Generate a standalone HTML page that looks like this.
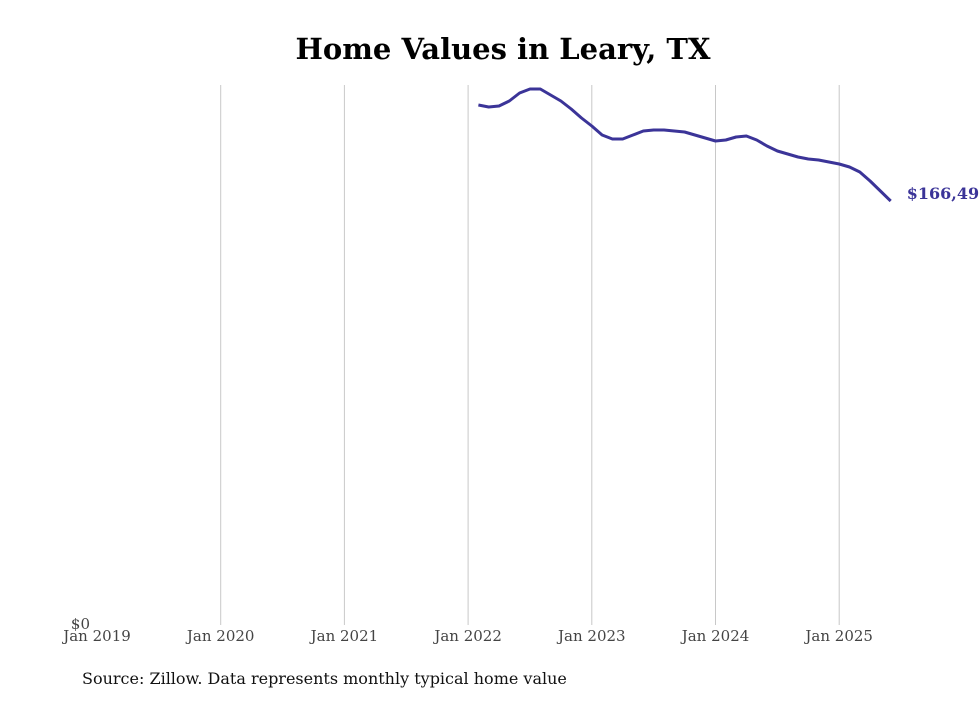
<!DOCTYPE html>
<html><head><meta charset="utf-8"><style>
body{margin:0;background:#fff;width:980px;height:699px;overflow:hidden;font-family:"DejaVu Serif","Liberation Serif",serif}
</style></head><body>
<svg id="chart" width="980" height="699" xmlns="http://www.w3.org/2000/svg">
<text x="503" y="59" text-anchor="middle" font-size="29" font-weight="bold" font-family="DejaVu Serif, Liberation Serif, serif">Home Values in Leary, TX</text>
<g id="grid"></g><g id="xticks"></g>
<text x="90" y="629" text-anchor="end" font-size="15" fill="#444">$0</text>
<path id="line" fill="none" stroke="#3b3498" stroke-width="3" stroke-linejoin="round"/>
<text id="endlabel" font-size="16" font-weight="bold" fill="#3b3498"></text>
<text x="82" y="684" font-size="16" fill="#111">Source: Zillow. Data represents monthly typical home value</text>
</svg>
<script>
const tickLabels=["Jan 2019","Jan 2020","Jan 2021","Jan 2022","Jan 2023","Jan 2024","Jan 2025"];
const startMonthIndex=37; // Feb 2022, months since Jan 2019
const values=[204188,203403,203796,205759,208900,210471,210471,208115,205759,202618,199084,195942,192408,190838,190838,192408,193979,194372,194372,193979,193586,192408,191230,190052,190445,191623,192016,190445,188089,186126,184948,183770,182984,182592,181806,181021,179843,177879,174345,170419,166492];
const yMax=212042;
const x0=97,yearW=123.7,y0=625,yTop=85;
const xs=m=>x0+m*yearW/12;
const ys=v=>y0-(v/yMax)*(y0-yTop);
const NS="http://www.w3.org/2000/svg";
const grid=document.getElementById('grid'),xt=document.getElementById('xticks');
tickLabels.forEach((t,i)=>{
  const x=xs(i*12);
  if(i>0){const l=document.createElementNS(NS,'line');
  
  
  l.setAttribute('x1',x);l.setAttribute('x2',x);l.setAttribute('y1',yTop);l.setAttribute('y2',y0);
  l.setAttribute('stroke','#c8c8c8');l.setAttribute('stroke-width','1');grid.appendChild(l);}
  const tx=document.createElementNS(NS,'text');
  
  
  tx.setAttribute('x',x);tx.setAttribute('y',641);tx.setAttribute('text-anchor','middle');
  tx.setAttribute('font-size','15');tx.setAttribute('fill','#444');tx.textContent=t;xt.appendChild(tx);
});
let d='';values.forEach((v,i)=>{d+=(i?'L':'M')+xs(startMonthIndex+i).toFixed(1)+','+ys(v).toFixed(1);});
document.getElementById('line').setAttribute('d',d);
const last=values[values.length-1],el=document.getElementById('endlabel');
el.setAttribute('x',xs(startMonthIndex+values.length-1)+16);el.setAttribute('y',ys(last)-2);
el.textContent='$'+last.toLocaleString('en-US');
</script>
</body></html>
